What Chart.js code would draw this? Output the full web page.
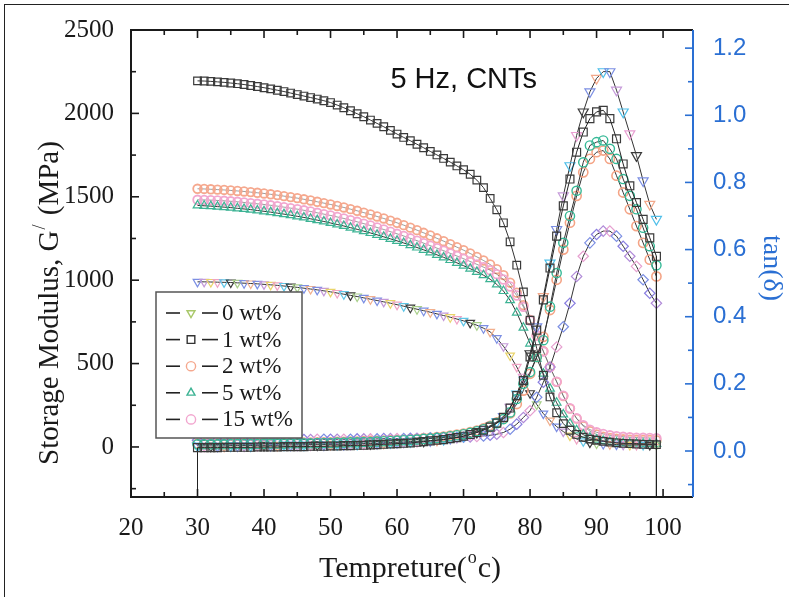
<!DOCTYPE html>
<html>
<head>
<meta charset="utf-8">
<script src="https://cdn.jsdelivr.net/npm/chart.js@4.4.0/dist/chart.umd.min.js"></script>
<style>
  html, body { margin: 0; padding: 0; background: #fff; }
  #wrap { position: relative; width: 789px; height: 597px; overflow: hidden; }
  #c { position: absolute; left: 0; top: 0; }
  #frame { position: absolute; left: 4px; top: 4px; right: -4px; bottom: -4px;
           border-left: 1.5px solid #222; border-top: 1.5px solid #222; pointer-events: none; }
</style>
</head>
<body>
<div id="wrap"><canvas id="c" width="789" height="597"></canvas><div id="frame"></div></div>
<script>
// temperatures (°C), one reading per degree
const TEMPS = [30,31,32,33,34,35,36,37,38,39,40,41,42,43,44,45,46,47,48,49,
               50,51,52,53,54,55,56,57,58,59,60,61,62,63,64,65,66,67,68,69,
               70,71,72,73,74,75,76,77,78,79,80,81,82,83,84,85,86,87,88,89,
               90,91,92,93,94,95,96,97,98,99];

const LABELS = ["0 wt%", "1 wt%", "2 wt%", "5 wt%", "15 wt%"];

// storage modulus G' (MPa)
const G_0 = [990,990,989,988,987,986,984,982,980,978, 975,972,969,965,961,957,952,947,942,936,
             930,923,916,909,902,894,886,878,870,862, 853,844,835,826,817,808,798,788,778,767,
             756,744,730,712,690,652,604,548,480,402, 322,255,200,158,122,92,68,48,34,26,
             21,18,16,14,13,12,12,12,12,12];
const G_1 = [2195,2194,2192,2189,2186,2182,2178,2173,2167,2161, 2154,2147,2139,2131,2122,2113,2104,2095,2086,2076,
             2065,2050,2034,2016,1998,1980,1960,1940,1920,1898, 1876,1856,1836,1815,1794,1772,1751,1730,1708,1685,
             1662,1635,1600,1555,1490,1422,1344,1230,1090,930, 760,590,430,300,205,140,100,75,58,47,
             40,34,29,25,22,20,18,16,15,14];
const G_2 = [1548,1547,1545,1543,1541,1538,1535,1532,1528,1524, 1520,1515,1510,1504,1498,1492,1485,1478,1470,1462,
             1454,1445,1436,1426,1416,1405,1394,1382,1370,1357, 1344,1330,1315,1300,1284,1268,1251,1234,1216,1198,
             1180,1160,1140,1118,1094,1066,1030,985,925,850, 762,670,575,480,390,305,230,170,125,95,
             75,62,54,49,46,44,43,42,42,41];
const G_5 = [1448,1446,1444,1441,1438,1435,1431,1427,1423,1418, 1413,1408,1402,1396,1390,1383,1376,1368,1360,1352,
             1343,1334,1325,1315,1305,1294,1283,1272,1260,1248, 1236,1223,1210,1196,1182,1167,1152,1137,1121,1104,
             1087,1069,1050,1030,1006,975,935,880,805,715, 620,530,440,350,265,195,140,100,74,56,
             44,36,30,26,23,21,20,19,18,18];
const G_15 = [1482,1481,1480,1478,1476,1473,1470,1466,1462,1458, 1454,1449,1444,1438,1432,1426,1419,1412,1404,1396,
              1388,1379,1370,1360,1350,1339,1328,1316,1304,1291, 1278,1265,1251,1237,1222,1207,1192,1177,1161,1145,
              1129,1112,1095,1078,1060,1036,1004,962,908,840, 758,668,572,478,392,308,232,172,130,104,
              88,78,70,65,61,58,56,55,54,53];

// tan(delta)
const TAN_TRI = [.015,.015,.015,.015,.015,.016,.016,.016,.016,.017, .017,.017,.017,.018,.018,.018,.018,.019,.019,.019,
                 .020,.020,.020,.021,.021,.022,.022,.023,.024,.025, .026,.027,.028,.029,.030,.031,.033,.035,.038,.041,
                 .045,.050,.056,.064,.074,.087,.103,.130,.170,.220, .290,.370,.460,.560,.660,.760,.850,.940,1.010,1.070,
                 1.110,1.130,1.130,1.075,1.010,.945,.880,.805,.735,.690];
const TAN_SQ = [.010,.010,.010,.010,.011,.011,.011,.011,.011,.012, .012,.012,.012,.013,.013,.013,.013,.014,.014,.014,
                .015,.015,.016,.016,.017,.017,.018,.019,.020,.021, .022,.023,.024,.026,.028,.030,.032,.034,.037,.040,
                .044,.049,.055,.062,.071,.083,.100,.128,.165,.210, .280,.360,.450,.545,.640,.730,.810,.890,.950,.990,
                1.010,1.015,.990,.930,.855,.790,.740,.690,.635,.580];
const TAN_OR = [.022,.022,.022,.022,.022,.023,.023,.023,.023,.023, .024,.024,.024,.024,.025,.025,.025,.025,.026,.026,
                .026,.027,.027,.028,.028,.029,.030,.030,.031,.032, .033,.034,.035,.036,.038,.039,.041,.043,.046,.049,
                .052,.056,.061,.067,.075,.085,.097,.112,.140,.180, .230,.280,.340,.420,.510,.600,.680,.760,.830,.870,
                .890,.895,.870,.820,.770,.720,.670,.620,.570,.520];
const TAN_GR = [.020,.020,.020,.020,.020,.021,.021,.021,.021,.021, .022,.022,.022,.022,.023,.023,.023,.023,.024,.024,
                .024,.025,.025,.026,.026,.027,.027,.028,.029,.030, .031,.032,.033,.034,.036,.037,.039,.041,.044,.047,
                .050,.054,.059,.065,.073,.083,.095,.115,.155,.200, .235,.280,.330,.430,.530,.620,.700,.775,.860,.910,
                .920,.925,.900,.870,.810,.760,.720,.665,.610,.553];
const TAN_DI = [.032,.032,.032,.033,.033,.033,.033,.033,.033,.033, .033,.033,.034,.034,.034,.034,.034,.034,.035,.035,
                .035,.035,.035,.035,.036,.036,.036,.036,.037,.037, .037,.037,.038,.038,.038,.039,.039,.040,.040,.041,
                .041,.042,.043,.045,.047,.050,.055,.065,.080,.100, .120,.160,.205,.250,.310,.370,.440,.520,.580,.620,
                .645,.655,.655,.640,.610,.580,.550,.510,.470,.440];
const TAN_FLOOR = -0.3;   // the 1 wt% trace runs off the bottom of the frame at both ends

// axes
const X_TICKS = [20,30,40,50,60,70,80,90,100];
const G_TICKS = [0,500,1000,1500,2000,2500];
const TAN_TICKS = [0,0.2,0.4,0.6,0.8,1.0,1.2];

const BLUE = "#2a6fd3";
const SERIF = "'Liberation Serif','Times New Roman',serif";
const SANS = "'Liberation Sans',Arial,sans-serif";

const pts = vals => TEMPS.map((t, i) => ({ x: t, y: vals[i] }));
const cyc = (cols) => TEMPS.map((_, i) => cols[i % cols.length]);

const base = { borderColor: "#333", borderWidth: 1, pointBackgroundColor: "rgba(0,0,0,0)",
               pointBorderWidth: 1.2, tension: 0, showLine: true };

const tanSq = [{ x: TEMPS[0], y: TAN_FLOOR }, ...pts(TAN_SQ), { x: TEMPS[TEMPS.length - 1], y: TAN_FLOOR }];

const datasets = [
  // storage modulus
  { ...base, label: LABELS[0], data: pts(G_0), yAxisID: "y", pointStyle: "triangle", pointRotation: 180, pointRadius: 5,
    pointBorderColor: cyc(["#7c8fe3","#c59ad9","#e9d46a","#f0a3c4","#5fc6e8","#3a3a3a","#a9cf8a","#7c8fe3","#f2b08e"]),
    legend: { style: "triangle", rot: 180, color: "#a9c86a" }, order: 6 },
  { ...base, label: LABELS[1], data: pts(G_1), yAxisID: "y", pointStyle: "rect", pointRadius: 5.4,
    pointBorderColor: "#3a3a3a", legend: { style: "rect", color: "#333" }, order: 2 },
  { ...base, label: LABELS[2], data: pts(G_2), yAxisID: "y", pointStyle: "circle", pointRadius: 4.3, pointBorderWidth: 1.8,
    borderColor: "rgba(60,60,60,0.5)", pointBorderColor: "#f5a88e", legend: { style: "circle", color: "#f5a88e" }, order: 9 },
  { ...base, label: LABELS[3], data: pts(G_5), yAxisID: "y", pointStyle: "triangle", pointRadius: 5,
    pointBorderColor: "#3db394", legend: { style: "triangle", color: "#3db394" }, order: 7 },
  { ...base, label: LABELS[4], data: pts(G_15), yAxisID: "y", pointStyle: "circle", pointRadius: 4.3, pointBorderWidth: 1.8,
    borderColor: "rgba(60,60,60,0.5)", pointBorderColor: "#f2a6cf", legend: { style: "circle", color: "#f2a6cf" }, order: 8 },
  // tan(delta)
  { ...base, label: "tan 0", data: pts(TAN_TRI), yAxisID: "y2", pointStyle: "triangle", pointRotation: 180, pointRadius: 5.8,
    pointBorderColor: cyc(["#4fbfe9","#e99fd2","#3a3a3a","#7c8fe3","#f2a88a","#4fbfe9","#7c8fe3","#c59ad9"]), order: 4 },
  { ...base, label: "tan 1", data: tanSq, yAxisID: "y2", pointStyle: "rect", borderColor: "#222",
    pointRadius: c => (c.dataIndex === 0 || c.dataIndex === tanSq.length - 1) ? 0 : 5.6,
    pointBorderColor: "#3a3a3a", order: 1 },
  { ...base, label: "tan 2", data: pts(TAN_OR), yAxisID: "y2", pointStyle: "circle", pointRadius: 4.6, pointBorderWidth: 1.6,
    pointBorderColor: "#f4a486", order: 5 },
  { ...base, label: "tan 5", data: pts(TAN_GR), yAxisID: "y2", pointStyle: "circle", pointRadius: 4.6, pointBorderWidth: 1.4,
    pointBorderColor: "#35b996", order: 3 },
  { ...base, label: "tan 15", data: pts(TAN_DI), yAxisID: "y2", pointStyle: "rectRot", pointRadius: 5.2,
    pointBorderColor: cyc(["#8a7fe0","#b08ad8","#e6a0d0","#7c8fe3"]), order: 4 }
];

function fixedTicks(list) { return s => { s.ticks = list.map(v => ({ value: v })); }; }

function marker(ctx, style, rot, x, y, r) {
  ctx.beginPath();
  if (style === "rect") { const h = r * Math.SQRT1_2; ctx.rect(x - h, y - h, 2 * h, 2 * h); }
  else if (style === "circle") { ctx.arc(x, y, r, 0, Math.PI * 2); }
  else {
    const a0 = (rot || 0) * Math.PI / 180;
    for (let k = 0; k < 3; k++) {
      const a = a0 - Math.PI / 2 + k * 2 * Math.PI / 3;
      const px = x + r * Math.cos(a), py = y + r * Math.sin(a);
      k ? ctx.lineTo(px, py) : ctx.moveTo(px, py);
    }
    ctx.closePath();
  }
  ctx.stroke();
}

const decor = {
  id: "decor",
  afterDatasetsDraw(chart) {
    const { ctx, chartArea: a, scales: { x, y, y2 } } = chart;
    const seg = (x1, y1, x2, y2_) => { ctx.beginPath(); ctx.moveTo(x1, y1); ctx.lineTo(x2, y2_); ctx.stroke(); };
    ctx.save();
    // frame (black) and right axis (blue)
    ctx.strokeStyle = "#1a1a1a"; ctx.lineWidth = 2;
    ctx.beginPath(); ctx.moveTo(a.right, a.top); ctx.lineTo(a.left, a.top); ctx.lineTo(a.left, a.bottom); ctx.lineTo(a.right, a.bottom); ctx.stroke();
    ctx.lineWidth = 1.6;
    const xs = X_TICKS.flatMap(v => [[v, 8], [v + 5, 5]]).filter(([v]) => v <= x.max);
    xs.forEach(([v, len]) => { const p = x.getPixelForValue(v); seg(p, a.bottom, p, a.bottom - len); seg(p, a.top, p, a.top + len); });
    const gs = G_TICKS.flatMap(v => [[v, 8], [v - 250, 5]]).filter(([v]) => v >= y.min && v <= y.max);
    gs.forEach(([v, len]) => { const p = y.getPixelForValue(v); seg(a.left, p, a.left + len, p); });
    ctx.strokeStyle = BLUE; ctx.lineWidth = 2;
    seg(a.right, a.top, a.right, a.bottom);
    ctx.lineWidth = 1.6;
    const ts = TAN_TICKS.flatMap(v => [[v, 8], [v + 0.1, 5]]).filter(([v]) => v <= y2.max);
    ts.push([-0.1, 5]);
    ts.forEach(([v, len]) => { const p = y2.getPixelForValue(v); seg(a.right, p, a.right - len, p); });

    // legend
    const bx = 156, by = 292, bw = 146, bh = 146;
    ctx.fillStyle = "#fff"; ctx.fillRect(bx, by, bw, bh);
    ctx.strokeStyle = "#555"; ctx.lineWidth = 1.5; ctx.strokeRect(bx, by, bw, bh);
    ctx.font = "23px " + SERIF; ctx.textBaseline = "middle"; ctx.textAlign = "left";
    chart.data.datasets.filter(d => d.legend).forEach((d, i) => {
      const ry = by + 21 + i * 26.6;
      ctx.strokeStyle = "#222"; ctx.lineWidth = 1.6;
      seg(bx + 10, ry, bx + 24, ry); seg(bx + 46, ry, bx + 62, ry);
      ctx.strokeStyle = d.legend.color; ctx.lineWidth = 1.4;
      marker(ctx, d.legend.style, d.legend.rot, bx + 35, ry, d.legend.style === "rect" ? 5.4 : 4.6);
      ctx.fillStyle = "#1a1a1a"; ctx.fillText(d.label, bx + 66, ry + 1);
    });

    // annotation
    ctx.fillStyle = "#111"; ctx.font = "29px " + SANS; ctx.textBaseline = "alphabetic";
    ctx.fillText("5 Hz, CNTs", x.getPixelForValue(59), y.getPixelForValue(2150));
    ctx.restore();
  },
  afterDraw(chart) {
    const { ctx, chartArea: a } = chart;
    ctx.save();
    ctx.fillStyle = "#1a1a1a"; ctx.textBaseline = "alphabetic";
    // x title with superscript o
    const p1 = "Tempreture(", p3 = "c)";
    ctx.font = "30px " + SERIF; const w1 = ctx.measureText(p1).width, w3 = ctx.measureText(p3).width;
    ctx.font = "18px " + SERIF; const w2 = ctx.measureText("o").width;
    let sx = (a.left + a.right) / 2 - (w1 + w2 + w3) / 2 - 3, base = 577;
    ctx.font = "30px " + SERIF; ctx.fillText(p1, sx, base);
    ctx.font = "18px " + SERIF; ctx.fillText("o", sx + w1 + 1, base - 14);
    ctx.font = "30px " + SERIF; ctx.fillText(p3, sx + w1 + w2 + 2, base);

    // left title, rotated
    ctx.save();
    ctx.translate(58, 303);
    ctx.rotate(-Math.PI / 2);
    const q1 = "Storage Modulus, G", q3 = " (MPa)";
    ctx.font = "29px " + SERIF; const v1 = ctx.measureText(q1).width, v3 = ctx.measureText(q3).width;
    const tot = v1 + 8 + v3;
    ctx.textAlign = "left";
    ctx.fillText(q1, -tot / 2, 0);
    ctx.font = "18px " + SERIF; ctx.fillText("/", -tot / 2 + v1 + 1, -13);
    ctx.font = "29px " + SERIF; ctx.fillText(q3, -tot / 2 + v1 + 8, 0);
    ctx.restore();

    // right title, rotated clockwise
    ctx.save();
    ctx.translate(764, 268);
    ctx.rotate(Math.PI / 2);
    ctx.fillStyle = BLUE; ctx.font = "28px " + SERIF; ctx.textAlign = "center";
    ctx.fillText("tan(\u03b4)", 0, 0);
    ctx.restore();
    ctx.restore();
  }
};

new Chart(document.getElementById("c").getContext("2d"), {
  type: "scatter",
  data: { datasets },
  plugins: [decor],
  options: {
    responsive: false, animation: false, devicePixelRatio: 1, events: [],
    layout: { padding: { top: 30, left: 0, right: 0, bottom: 0 } },
    plugins: { legend: { display: false }, tooltip: { enabled: false } },
    scales: {
      x: { type: "linear", position: "bottom", min: 20, max: 104.5,
           grid: { display: false }, border: { display: false },
           afterBuildTicks: fixedTicks(X_TICKS), afterFit: s => { s.height = 100; },
           ticks: { padding: 8, color: "#1a1a1a", font: { family: SERIF, size: 25 }, callback: v => String(v) } },
      y: { type: "linear", position: "left", min: -300, max: 2500,
           grid: { display: false }, border: { display: false },
           afterBuildTicks: fixedTicks(G_TICKS), afterFit: s => { s.width = 131; },
           ticks: { padding: 9, color: "#1a1a1a", font: { family: SERIF, size: 25 }, callback: v => String(v) } },
      y2: { type: "linear", position: "right", min: -0.137, max: 1.254,
            grid: { display: false }, border: { display: false },
            afterBuildTicks: fixedTicks(TAN_TICKS), afterFit: s => { s.width = 96; },
            ticks: { padding: 12, color: BLUE, font: { family: SANS, size: 24 }, callback: v => v.toFixed(1) } }
    }
  }
});
</script>
</body>
</html>
